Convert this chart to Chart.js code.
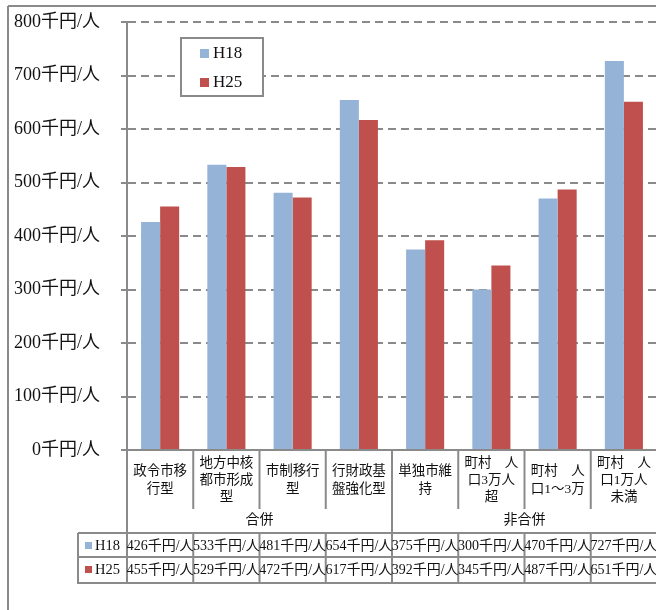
<!DOCTYPE html>
<html><head><meta charset="utf-8">
<script src="https://cdn.jsdelivr.net/npm/chart.js@4/dist/chart.umd.min.js"></script>
<style>
html,body{margin:0;padding:0;overflow:hidden;background:#fff;width:656px;height:610px}
#wrap{position:absolute;left:0;top:0;width:720px;height:610px}
</style></head>
<body><div id="wrap"><canvas id="c" width="720" height="610"></canvas></div>
<script>
// ---- data ----
const categories = [
  ["政令市移","行型"],
  ["地方中核","都市形成","型"],
  ["市制移行","型"],
  ["行財政基","盤強化型"],
  ["単独市維","持"],
  ["町村　人","口3万人","超"],
  ["町村　人","口1～3万"],
  ["町村　人","口1万人","未満"]
];
const groupNames = ["合併","非合併"];
const groupSizes = [4,4];
const seriesNames = ["H18","H25"];
const h18 = [426,533,481,654,375,300,470,727];
const h25 = [455,529,472,617,392,345,487,651];
const yTicks = [0,100,200,300,400,500,600,700,800];
const unit = "千円/人";

// ---- styles ----
const GRAY = '#8a8a8a';
const FONT = '"Liberation Serif","Noto Sans CJK JP",serif';
const COLORS = ['#95B3D7','#C0504D'];

const tablePlugin = {
  id:'tablePlugin',
  afterDraw(chart){
    const ctx = chart.ctx, x = chart.scales.x, a = chart.chartArea;
    const n = categories.length;
    const half = (x.getPixelForValue(1) - x.getPixelForValue(0)) / 2;
    const edges = [];
    for(let i=0;i<n;i++) edges.push(x.getPixelForValue(i) - half);
    edges.push(x.getPixelForValue(n-1) + half);
    const labelBottom = a.bottom + 59;
    const groupBottom = a.bottom + 83;
    const row1Bottom = a.bottom + 107;
    const row2Bottom = a.bottom + 133;
    const tableLeft = 78;
    ctx.save();
    ctx.strokeStyle = GRAY; ctx.lineWidth = 2; ctx.setLineDash([]);
    const line=(x1,y1,x2,y2)=>{ctx.beginPath();ctx.moveTo(x1,y1);ctx.lineTo(x2,y2);ctx.stroke();};
    // outer frame
    line(8,6,720,6); line(8,6,8,610);
    // axis extension down
    line(a.left, a.bottom, a.left, row2Bottom+1);
    // category separators
    let acc = 0; const groupEdges=[0];
    groupSizes.forEach(s=>{acc+=s; groupEdges.push(acc);});
    for(let i=1;i<=n;i++){
      if(groupEdges.includes(i)) line(edges[i], a.bottom, edges[i], row2Bottom+1);
      else { line(edges[i], a.bottom, edges[i], labelBottom); line(edges[i], groupBottom, edges[i], row2Bottom+1); }
    }
    // table horizontals
    line(tableLeft, groupBottom, 720, groupBottom);
    line(tableLeft, row1Bottom, 720, row1Bottom);
    line(tableLeft, row2Bottom, 720, row2Bottom);
    line(tableLeft, groupBottom, tableLeft, row2Bottom+1);
    // category labels
    ctx.fillStyle = '#111'; ctx.textAlign='center'; ctx.textBaseline='middle';
    ctx.font = '13.5px ' + FONT;
    const lh = 17.4, mid = a.bottom + 30.5;
    categories.forEach((lab,i)=>{
      const cx = x.getPixelForValue(i);
      lab.forEach((t,k)=>{ ctx.fillText(t, cx, mid + (k - (lab.length-1)/2)*lh); });
    });
    // group labels
    ctx.font = '14px ' + FONT;
    groupNames.forEach((g,k)=>{
      const cx = (edges[groupEdges[k]] + edges[groupEdges[k+1]])/2;
      ctx.fillText(g, cx, a.bottom + 70);
    });
    // table rows
    const rows = [h18,h25];
    const rowY = [a.bottom + 96, a.bottom + 120];
    rows.forEach((vals,r)=>{
      ctx.fillStyle = COLORS[r];
      ctx.fillRect(85, rowY[r]-4, 7, 7);
      ctx.fillStyle = '#111'; ctx.textAlign='left'; ctx.font = '14.5px ' + FONT;
      ctx.fillText(seriesNames[r], 95, rowY[r]);
      ctx.textAlign='center'; ctx.font = '14px ' + FONT;
      vals.forEach((v,i)=>{ ctx.fillText(v + unit, x.getPixelForValue(i), rowY[r]); });
    });
    // legend box
    const lx=181, ly=38, lw=82, lhgt=58;
    ctx.fillStyle='#fff'; ctx.fillRect(lx,ly,lw,lhgt);
    ctx.strokeRect(lx,ly,lw,lhgt);
    ctx.font = '17px ' + FONT; ctx.textAlign='left';
    seriesNames.forEach((s,k)=>{
      const yy = ly + 15 + k*29;
      ctx.fillStyle = COLORS[k]; ctx.fillRect(200, yy-4, 9, 9);
      ctx.fillStyle = '#111'; ctx.fillText(s, 213, yy+1);
    });
    ctx.restore();
  }
};

new Chart(document.getElementById('c'), {
  type:'bar',
  data:{
    labels: categories,
    datasets:[
      {label:seriesNames[0], data:h18, backgroundColor:COLORS[0], borderWidth:0},
      {label:seriesNames[1], data:h25, backgroundColor:COLORS[1], borderWidth:0}
    ]
  },
  options:{
    responsive:false, animation:false, devicePixelRatio:1,
    layout:{padding:{top:22,right:63,left:0,bottom:0}},
    datasets:{bar:{categoryPercentage:0.575, barPercentage:1}},
    plugins:{legend:{display:false}, tooltip:{enabled:false}},
    scales:{
      x:{
        ticks:{display:false},
        grid:{display:false},
        border:{display:true, color:GRAY, width:2},
        afterFit(s){ s.height = 160; }
      },
      y:{
        min:0, max:800,
        afterBuildTicks(s){ s.ticks = yTicks.map(v=>({value:v})); },
        ticks:{ color:'#111', padding:21, font:{family:FONT, size:18},
          callback:(v)=> v + unit },
        grid:{ color:GRAY, lineWidth:2, tickLength:6, tickColor:GRAY, tickWidth:2, tickBorderDash:[] },
        border:{ display:true, color:GRAY, width:2, dash:[8,5] },
        afterFit(s){ s.width = 127; s.paddingTop = 0; s.paddingBottom = 0; }
      }
    }
  },
  plugins:[tablePlugin]
});
</script>
</body></html>
